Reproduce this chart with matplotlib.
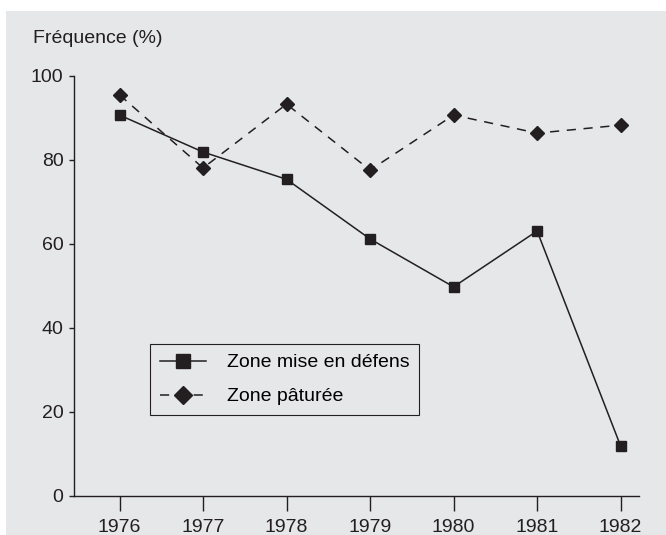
import matplotlib
matplotlib.use('Agg')
import matplotlib.pyplot as plt
from matplotlib.patches import Rectangle

years = [1976, 1977, 1978, 1979, 1980, 1981, 1982]
defens = [90.7, 81.9, 75.4, 61.2, 49.8, 63.1, 11.9]
paturee = [95.5, 78.1, 93.3, 77.6, 90.7, 86.4, 88.3]
yticks = [0, 20, 40, 60, 80, 100]

ink = '#231f20'
bg = '#e6e7e9'
fs = 14

plt.rcParams['font.family'] = ['Liberation Sans', 'DejaVu Sans']

fig = plt.figure(figsize=(6.66, 5.35), dpi=100)
fig.patch.set_facecolor('white')
fig.patches.append(Rectangle((6/666, 0), 1, 1 - 11/535, transform=fig.transFigure,
                             facecolor=bg, edgecolor='none', zorder=-5))

ax = fig.add_axes([74/666, 1 - 496/535, 565/666, 420/535])
ax.set_facecolor('none')

ax.plot(years, defens, '-', color=ink, lw=1.1, marker='s', ms=7.2,
        label='Zone mise en défens', clip_on=False)
ax.plot(years, paturee, '--', color=ink, lw=1.1, marker='D', ms=7,
        dashes=(6, 5), label='Zone pâturée', clip_on=False)

ax.set_xlim(1975.455, 1982.22)
ax.set_ylim(0, 100)
ax.set_xticks(years)
ax.set_yticks(yticks)
ax.spines['top'].set_visible(False)
ax.spines['right'].set_visible(False)
for s in ['left', 'bottom']:
    ax.spines[s].set_color(ink)
    ax.spines[s].set_linewidth(1.0)
ax.tick_params(axis='x', direction='out', length=10.5, width=1.0, color=ink,
               labelsize=fs, labelcolor=ink, pad=6)
ax.tick_params(axis='y', direction='out', length=3.5, width=1.0, color=ink,
               labelsize=fs, labelcolor=ink, pad=4)

fig.text(33/666, 1 - 43/535, 'Fréquence (%)', fontsize=fs, color=ink,
         ha='left', va='baseline')

leg = ax.legend(loc='upper left', bbox_to_anchor=(150/666, 1 - 344/535),
                bbox_transform=fig.transFigure, borderaxespad=0,
                fontsize=fs, frameon=True, fancybox=False, framealpha=1,
                facecolor=bg, edgecolor=ink, handlelength=2.4,
                handletextpad=1.05, labelspacing=0.85, markerscale=1.3,
                borderpad=0.5)
leg.get_frame().set_linewidth(0.8)

fig.savefig('out.png', dpi=100, facecolor=fig.get_facecolor())
